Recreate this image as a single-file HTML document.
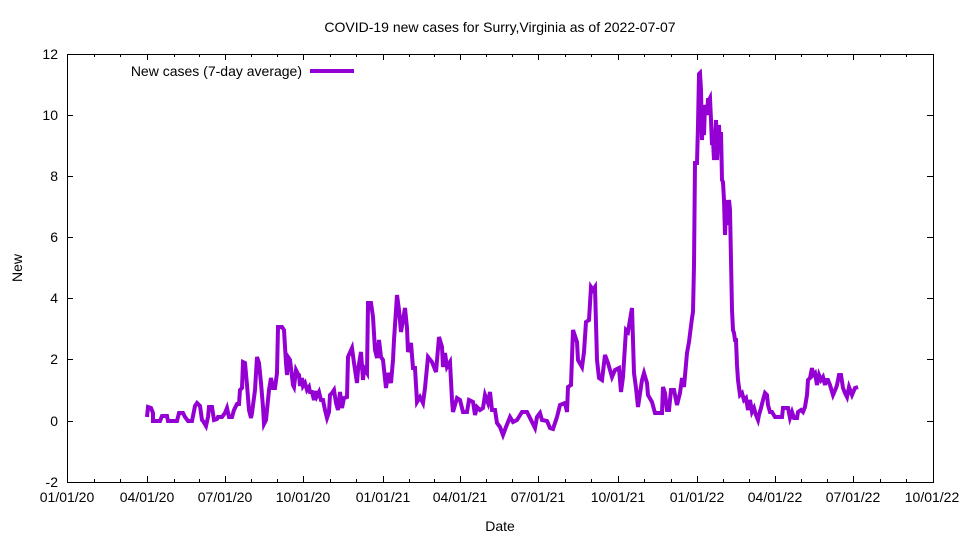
<!DOCTYPE html>
<html><head><meta charset="utf-8"><style>
body{margin:0;background:#fff}
svg text{font-family:"Liberation Sans",sans-serif;font-size:14px;fill:#000}
</style></head><body>
<svg width="960" height="540" xmlns="http://www.w3.org/2000/svg">
<rect width="960" height="540" fill="#fff"/>
<text x="500" y="32" text-anchor="middle">COVID-19 new cases for Surry,Virginia as of 2022-07-07</text>
<g stroke="#000" stroke-width="1" fill="none">
<rect x="67.5" y="54.5" width="866" height="428"/>
<path d="M67 115.5h6M933 115.5h-6M67 176.5h6M933 176.5h-6M67 237.5h6M933 237.5h-6M67 298.5h6M933 298.5h-6M67 359.5h6M933 359.5h-6M67 421.5h6M933 421.5h-6"/>
<path d="M147.5 482v-6M147.5 54v6M225.5 482v-6M225.5 54v6M303.5 482v-6M303.5 54v6M383.5 482v-6M383.5 54v6M460.5 482v-6M460.5 54v6M538.5 482v-6M538.5 54v6M618.5 482v-6M618.5 54v6M697.5 482v-6M697.5 54v6M775.5 482v-6M775.5 54v6M853.5 482v-6M853.5 54v6"/>
<path d="M94.5 482v-3M120.5 482v-3M174.5 482v-3M199.5 482v-3M251.5 482v-3M277.5 482v-3M330.5 482v-3M356.5 482v-3M409.5 482v-3M434.5 482v-3M486.5 482v-3M512.5 482v-3M565.5 482v-3M591.5 482v-3M644.5 482v-3M671.5 482v-3M723.5 482v-3M749.5 482v-3M801.5 482v-3M827.5 482v-3M880.5 482v-3M906.5 482v-3M94.5 54v3M120.5 54v3M174.5 54v3M199.5 54v3M251.5 54v3M277.5 54v3M330.5 54v3M356.5 54v3M409.5 54v3M434.5 54v3M486.5 54v3M512.5 54v3M565.5 54v3M591.5 54v3M644.5 54v3M671.5 54v3M723.5 54v3M749.5 54v3M801.5 54v3M827.5 54v3M880.5 54v3M906.5 54v3"/>
</g>
<g text-anchor="end">
<text x="58" y="59">12</text><text x="58" y="120">10</text><text x="58" y="181">8</text><text x="58" y="242">6</text><text x="58" y="303">4</text><text x="58" y="364">2</text><text x="58" y="426">0</text><text x="58" y="487">-2</text>
</g>
<g text-anchor="middle">
<text x="67" y="502">01/01/20</text><text x="147" y="502">04/01/20</text><text x="225" y="502">07/01/20</text><text x="303" y="502">10/01/20</text><text x="383" y="502">01/01/21</text><text x="460" y="502">04/01/21</text><text x="538" y="502">07/01/21</text><text x="618" y="502">10/01/21</text><text x="697" y="502">01/01/22</text><text x="775" y="502">04/01/22</text><text x="853" y="502">07/01/22</text><text x="932" y="502">10/01/22</text>
<text x="500" y="531">Date</text>
</g>
<text transform="translate(22,268) rotate(-90)" text-anchor="middle">New</text>
<text x="302" y="76" text-anchor="end">New cases (7-day average)</text>
<line x1="310" y1="71" x2="354" y2="71" stroke="#9400d3" stroke-width="4"/>
<polyline fill="none" stroke="#9400d3" stroke-width="4" points="147,417 148,407 151,408 153,413 153,421 160,421 162,416 167,416 168,421 177,421 179,413 183,413 185,417 188,421 192,421 195,406 197,403 200,406 202,420 203,421 206,426 208,417 209,407 212,407 214,420 217,419 218,417 222,417 225,413 227,408 229,417 232,417 234,410 237,404 239,404 240,390 242,388 243,362 245,363 247,385 249,410 251,418 252,413 255,390 257,357 259,363 261,383 263,407 264,424 266,420 267,410 269,390 271,378 273,388 275,388 277,373 278,327 282,327 284,330 286,363 287,375 288,357 290,360 293,385 294,387 296,370 298,374 299,375 300,386 302,378 303,386 305,383 307,390 309,387 310,392 312,392 314,400 316,391 317,396 319,392 321,400 323,400 325,410 327,418 329,412 330,395 332,393 334,390 336,403 338,410 340,392 342,408 344,398 347,397 348,357 352,348 354,363 357,383 358,370 361,352 363,380 364,368 367,373 368,303 371,303 373,317 375,350 377,358 379,340 381,357 383,360 386,388 388,373 391,383 393,360 394,340 397,295 399,310 401,332 403,320 405,308 407,328 408,352 411,343 413,368 415,368 417,402 420,397 423,403 425,388 428,357 432,362 436,372 439,337 442,347 443,367 445,353 447,367 450,362 452,400 453,412 457,398 460,400 463,412 467,412 469,400 473,402 475,415 477,407 480,410 483,408 485,395 488,403 490,392 492,410 495,410 497,423 500,427 503,435 506,427 510,417 513,422 517,420 522,412 527,412 530,418 535,428 537,417 540,413 542,420 547,421 550,428 553,429 557,417 560,405 565,403 567,412 568,387 571,385 573,330 577,342 578,360 582,367 584,352 586,322 589,320 591,287 593,290 595,287 597,360 599,378 602,380 605,355 608,363 612,377 615,370 619,368 621,392 623,377 626,330 628,332 632,308 634,373 636,388 638,407 642,380 644,373 647,383 648,395 652,402 655,413 657,413 662,413 663,387 665,393 667,410 669,410 671,390 674,390 677,405 680,393 682,378 684,387 687,353 689,342 692,318 693,312 694,265 695,163 697,163 698,125 699,74 700,73 701,90 702,140 703,110 704,135 705,105 707,115 708,100 709,100 710,98 711,120 712,145 713,140 714,160 715,140 716,120 717,160 718,140 719,125 720,150 721,132 722,180 723,182 724,200 725,235 726,210 727,200 728,225 729,200 730,210 731,260 732,310 733,330 734,333 735,340 736,340 737,365 738,380 740,395 742,393 744,400 746,398 748,410 750,400 752,412 754,408 756,415 758,420 759,415 761,408 763,400 765,393 767,395 768,405 770,412 772,412 775,417 782,417 783,408 788,408 790,418 792,412 794,418 797,418 798,412 801,410 803,412 805,407 807,395 808,380 810,378 812,368 813,375 815,373 817,385 819,375 821,380 823,377 825,385 826,380 828,380 830,385 833,395 836,388 837,385 839,375 841,375 843,388 845,393 847,397 849,387 852,395 855,388 858,387"/>
</svg>
</body></html>
